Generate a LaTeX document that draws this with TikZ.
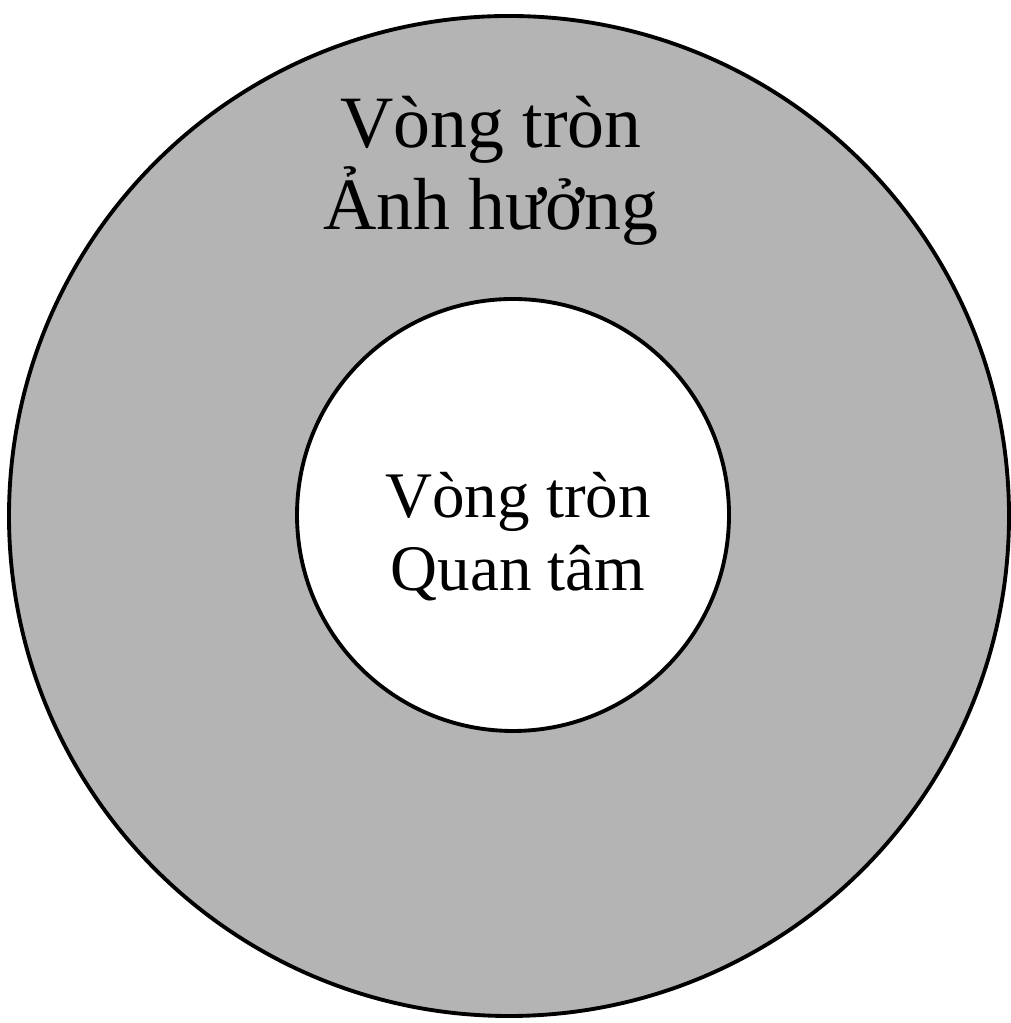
\documentclass[tikz,border=0pt]{standalone}
\usepackage{fontspec}
\setmainfont{Liberation Serif}
\usetikzlibrary{positioning}
\definecolor{ringgray}{RGB}{180,180,180}

\begin{document}
\begin{tikzpicture}[ring/.style={circle, draw, line width=1.1pt, inner sep=0pt},
    label text/.style={align=center}]
  \useasboundingbox (0,0) rectangle (10.10,10.23);
  \node[ring, fill=ringgray, minimum size=10.0cm] (outer) at (5.09,5.07) {};
  \node[ring, fill=white, minimum size=4.32cm] (inner) at (5.13,5.08) {};
  \node[label text, font=\fontsize{21}{23.5}\selectfont] (influence) at (4.91,8.52) {Vòng tròn\\Ảnh hưởng};
  \node[label text, font=\fontsize{18.5}{20.8}\selectfont] (concern) at (5.18,4.86) {Vòng tròn\\Quan tâm};
\end{tikzpicture}
\end{document}
